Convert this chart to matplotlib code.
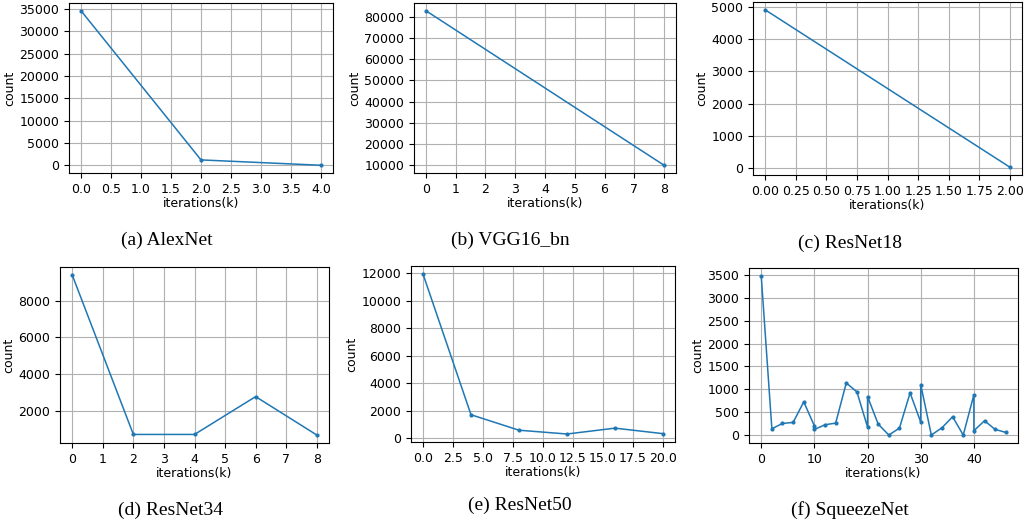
import matplotlib
matplotlib.use("Agg")
import matplotlib.pyplot as plt
from matplotlib.ticker import MultipleLocator

# iteration counts
alex_x = [0, 2, 4]
alex_y = [34600, 1200, 0]

vgg_x = [0, 8]
vgg_y = [82800, 10000]

r18_x = [0, 2]
r18_y = [4900, 40]

r34_x = [0, 2, 4, 6, 8]
r34_y = [9400, 720, 720, 2780, 690]

r50_x = [0, 4, 8, 12, 16, 20]
r50_y = [11950, 1725, 600, 325, 750, 350]

sq_x = [0, 2, 4, 6, 8, 10, 10, 12, 14, 16, 18, 20, 20, 22, 24, 26, 28,
        30, 30, 32, 34, 36, 38, 40, 40, 42, 44, 46]
sq_y = [3480, 138, 254, 276, 726, 200, 123, 225, 261, 1140, 944, 174, 842,
        240, 0, 152, 922, 283, 1104, 0, 160, 400, 0, 879, 94, 312, 123, 58]

captions = ["(a) AlexNet", "(b) VGG16_bn", "(c) ResNet18",
            "(d) ResNet34", "(e) ResNet50", "(f) SqueezeNet"]

# tick spacing (x, y) per panel, as in the original
x_steps = [0.5, 1, 0.25, 1, 2.5, 10]
y_steps = [5000, 10000, 1000, 2000, 2000, 500]

W, H = 1026, 527
plt.rcParams['font.size'] = 9

fig = plt.figure(figsize=(W / 100, H / 100), dpi=100)

def box(l, t, r, b):   # pixel box -> figure fraction
    return [l / W, 1 - b / H, (r - l) / W, (b - t) / H]

panels = [
    (alex_x, alex_y, box(69, 3, 333, 173)),
    (vgg_x, vgg_y, box(414, 3, 676, 173)),
    (r18_x, r18_y, box(753, 2, 1022, 175)),
    (r34_x, r34_y, box(60, 267, 329, 443)),
    (r50_x, r50_y, box(411, 266, 675, 442)),
    (sq_x, sq_y, box(749, 268, 1018, 443)),
]

for (x, y, rect), xs, ys in zip(panels, x_steps, y_steps):
    ax = fig.add_axes(rect)
    ax.plot(x, y, marker='.', markersize=4, linewidth=1.1, color='tab:blue')
    ax.xaxis.set_major_locator(MultipleLocator(xs))
    ax.yaxis.set_major_locator(MultipleLocator(ys))
    ax.grid(True)
    ax.set_xlabel("iterations(k)", labelpad=1)
    ax.set_ylabel("count", labelpad=2)

cap_pos = [(167, 240), (510, 240), (850, 243), (170, 510), (520, 505), (850, 510)]
for txt, (cx, cy) in zip(captions, cap_pos):
    fig.text(cx / W, 1 - cy / H, txt, family='Liberation Serif', fontsize=14,
             ha='center', va='center')

fig.savefig("out.png", dpi=100)
